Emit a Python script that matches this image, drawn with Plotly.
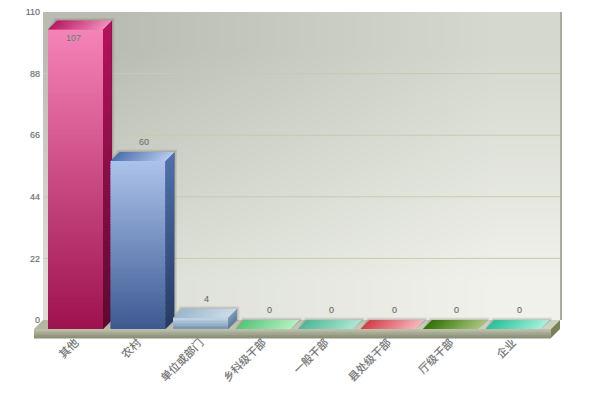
import plotly.graph_objects as go

categories = ["其他", "农村", "单位或部门", "乡科级干部", "一般干部", "县处级干部", "厅级干部", "企业"]
values = [107, 60, 4, 0, 0, 0, 0, 0]
y_ticks = [0, 22, 44, 66, 88, 110]

# back wall shading, bottom row first
wall_shade = [
    [0.64, 0.76, 0.88, 1.00],
    [0.43, 0.56, 0.71, 0.84],
    [0.21, 0.37, 0.52, 0.68],
    [0.00, 0.17, 0.35, 0.52],
]

# (front top, front bottom, side top, side bottom, lid left, lid right)
bar_colors = [
    ("#f583b8", "#9e124f", "#b5125c", "#5e0a30", "#bd1a62", "#f08cba"),
    ("#abc2ea", "#3d5a92", "#4f70aa", "#283c66", "#4f72b0", "#b4c8ec"),
    ("#bcd2e4", "#7d9ab4", "#7c9ab4", "#5f7f9a", "#9ab8d0", "#cddbe6"),
    ("#8ce0a0", "#55c878", "#55c878", "#55c878", "#55c878", "#b4f0c4"),
    ("#80d0b0", "#4fb89a", "#4fb89a", "#4fb89a", "#4fb89a", "#aae8d2"),
    ("#e88088", "#d84850", "#d84850", "#d84850", "#d63f4a", "#f6b4bc"),
    ("#70a040", "#3a7a10", "#3a7a10", "#3a7a10", "#347408", "#a4c478"),
    ("#60d8b0", "#2cc8a0", "#2cc8a0", "#2cc8a0", "#26c49a", "#a4f0d8"),
]

# pixel layout of the picture (the page body adds 8px around the figure)
BODY = 8
PLOT_L, PLOT_R, PLOT_T, PLOT_B = 34, 565, 10, 340
WALL_L, WALL_R = 43, 560
BASE_FRONT, BASE_BACK = 329, 320
PX_PER_UNIT = 2.8
FIRST_CENTER, STEP = 75.5, 62.5
DEPTH_X = 9 / STEP
DEPTH_Y = 9 / PX_PER_UNIT
BAR_W = 55 / STEP


def px_to_cat(px):
    return (px - FIRST_CENTER) / STEP


def hex_rgb(c):
    return [int(c[i:i + 2], 16) for i in (1, 3, 5)]


def mix(a, b, t):
    a, b = hex_rgb(a), hex_rgb(b)
    return "rgb(%d,%d,%d)" % tuple(round(a[i] + (b[i] - a[i]) * t) for i in range(3))


def poly(points, color, yref="y2"):
    path = "M " + " L ".join(f"{x:.4f},{y:.4f}" for x, y in points) + " Z"
    return dict(type="path", path=path, xref="x", yref=yref, fillcolor=color,
                line=dict(width=0), layer="above")


def front_strips(x0, x1, v, top, bottom):
    n = max(4, v)
    out = []
    for k in range(n):
        t = k / (n - 1)
        y_hi = v * (1 - k / n)
        y_lo = max(v * (1 - (k + 1.5) / n), 0)
        out.append(poly([(x0, y_lo), (x1, y_lo), (x1, y_hi), (x0, y_hi)], mix(top, bottom, t)))
    return out


def side_strips(x1, v, top, bottom):
    # solid face underneath so the strip ends do not leave a saw edge
    out = [poly([(x1, 0), (x1 + DEPTH_X, DEPTH_Y), (x1 + DEPTH_X, v + DEPTH_Y), (x1, v)], mix(top, bottom, 0.5))]
    n = max(4, v // 2)
    inset = 0.6 / STEP
    for k in range(n):
        t = k / (n - 1)
        y_hi = v * (1 - k / n)
        y_lo = max(v * (1 - (k + 1.5) / n), 0)
        out.append(poly([(x1, y_lo), (x1 + DEPTH_X - inset, y_lo + DEPTH_Y),
                         (x1 + DEPTH_X - inset, y_hi + DEPTH_Y), (x1, y_hi)], mix(top, bottom, t)))
    return out


def lid_strips(x0, x1, v, left, right, n=24):
    out = []
    w = (x1 - x0) / n
    for k in range(n):
        t = k / (n - 1)
        a = x0 + k * w
        b = x0 + (k + 1.4) * w if k < n - 1 else x1
        out.append(poly([(a, v), (b, v), (b + DEPTH_X, v + DEPTH_Y), (a + DEPTH_X, v + DEPTH_Y)],
                        mix(left, right, t)))
    return out


fig = go.Figure()

# back wall; bricks are centred, so the centres sit an eighth in from each edge
wall_l, wall_r = px_to_cat(WALL_L), px_to_cat(WALL_R)
wall_w = wall_r - wall_l
fig.add_trace(go.Heatmap(
    x=[wall_l + wall_w * f for f in (0.125, 0.375, 0.625, 0.875)],
    y=[13.75, 41.25, 68.75, 96.25],
    z=wall_shade,
    zsmooth="best",
    zmin=0,
    zmax=1,
    colorscale=[[0, "#b9bdb1"], [1, "#eff1ea"]],
    showscale=False,
    hoverinfo="skip",
    xaxis="x",
    yaxis="y",
))

fig.add_trace(go.Bar(
    x=list(range(len(categories))),
    y=values,
    width=BAR_W,
    marker=dict(color=[c[0] for c in bar_colors], line=dict(width=0)),
    xaxis="x",
    yaxis="y2",
    hovertext=categories,
))

shapes = []

# wall edge
shapes.append(poly([(wall_r, 0), (wall_r + 2 / STEP, 0), (wall_r + 2 / STEP, 110), (wall_r, 110)], "#a9ada0", "y"))

# grid lines
for t in y_ticks[1:-1]:
    shapes.append(dict(type="line", x0=wall_l, x1=wall_r, y0=t, y1=t, xref="x", yref="y",
                       line=dict(color="#c6cbb0", width=1), layer="above"))

# floor slab
floor_l, floor_r = px_to_cat(34), px_to_cat(551)
shapes += lid_strips(floor_l, floor_r, 0, "#b3b7a1", "#cfd2c2", n=12)
band = 9 / PX_PER_UNIT
for k in range(6):
    y_hi = -band * k / 6
    y_lo = -band * (k + 1.3) / 6
    shapes.append(poly([(floor_l, y_lo), (floor_r, y_lo), (floor_r, y_hi), (floor_l, y_hi)],
                       mix("#bcbfa9", "#8b9078", k / 5)))
shapes.append(poly([(floor_r, 0), (floor_r + DEPTH_X, DEPTH_Y), (floor_r + DEPTH_X, DEPTH_Y - band),
                    (floor_r, -band)], "#778258"))

# bars with their depth faces
for i, v in enumerate(values):
    front_top, front_bot, side_top, side_bot, lid_l, lid_r = bar_colors[i]
    x0, x1 = i - BAR_W / 2, i + BAR_W / 2
    for grow, alpha in ((2.5, 0.12), (1.2, 0.18)):
        gx, gy = grow / STEP, grow / PX_PER_UNIT
        shapes.append(poly([(x0, v), (x0 + DEPTH_X - gx, v + DEPTH_Y + gy),
                            (x1 + DEPTH_X + gx, v + DEPTH_Y + gy), (x1 + DEPTH_X + gx, DEPTH_Y),
                            (x1, 0)], f"rgba(90,90,80,{alpha})"))
    if v > 0:
        shapes += front_strips(x0, x1, v, front_top, front_bot)
        shapes += side_strips(x1, v, side_top, side_bot)
    shapes += lid_strips(x0, x1, v, lid_l, lid_r)

label_font = dict(family="Liberation Sans", size=9, color="#707070", shadow="0 0 1px #bbbbbb")
annotations = []
for i, v in enumerate(values):
    inside = v + DEPTH_Y > 100
    annotations.append(dict(
        x=i + (6 / STEP if not inside else -2 / STEP),
        y=v + (0 if inside else DEPTH_Y),
        xref="x",
        yref="y2",
        text=str(v),
        showarrow=False,
        yshift=-9 if inside else 10,
        font=label_font,
    ))

fig.update_layout(
    width=600 - BODY,
    height=400 - BODY,
    margin=dict(l=PLOT_L - BODY, r=600 - PLOT_R, t=PLOT_T - BODY, b=400 - PLOT_B, autoexpand=False),
    paper_bgcolor="white",
    plot_bgcolor="rgba(0,0,0,0)",
    showlegend=False,
    shapes=shapes,
    annotations=annotations,
    xaxis=dict(
        range=[px_to_cat(PLOT_L), px_to_cat(PLOT_R)],
        tickvals=list(range(len(categories))),
        ticktext=categories,
        tickangle=-45,
        tickfont=dict(family="Noto Sans CJK SC", size=11, color="#707070", shadow="0 0 1px #bbbbbb"),
        anchor="free",
        position=(PLOT_B - 333) / (PLOT_B - PLOT_T),
        showgrid=False,
        zeroline=False,
        showline=False,
        ticks="",
    ),
    yaxis=dict(
        range=[(BASE_BACK - PLOT_B) / PX_PER_UNIT, (BASE_BACK - PLOT_T) / PX_PER_UNIT],
        tickvals=y_ticks,
        tickfont=label_font,
        anchor="free",
        position=(WALL_L - PLOT_L) / (PLOT_R - PLOT_L),
        ticklabelstandoff=3,
        ticklabeloverflow="allow",
        showgrid=False,
        zeroline=False,
        showline=False,
        ticks="",
    ),
    yaxis2=dict(
        range=[(BASE_FRONT - PLOT_B) / PX_PER_UNIT, (BASE_FRONT - PLOT_T) / PX_PER_UNIT],
        overlaying="y",
        showticklabels=False,
        showgrid=False,
        zeroline=False,
        showline=False,
        ticks="",
    ),
)

fig.write_html("out.html")
